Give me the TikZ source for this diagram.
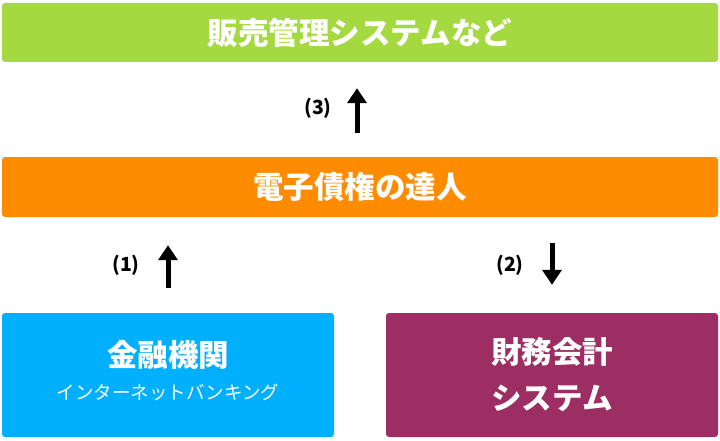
\documentclass[tikz,border=0pt]{standalone}
\usepackage{fontspec}
\setmainfont{Noto Sans CJK JP}
\usepackage{xcolor}
\usetikzlibrary{arrows.meta}

\definecolor{salesgreen}{HTML}{A5D940}
\definecolor{tatsuorange}{HTML}{FF8C00}
\definecolor{bankblue}{HTML}{00B0FF}
\definecolor{acctpurple}{HTML}{9C2E64}

\tikzset{
  panel/.style={fill=#1, rounded corners=3pt, text=white, font=\bfseries\fontsize{30.5}{46}\selectfont, align=center, inner sep=0pt},
  flow/.style={line width=5pt, -{Triangle[width=19pt,length=15pt]}},
  numlabel/.style={font=\bfseries\fontsize{19.5}{22}\selectfont}
}

\begin{document}
\begin{tikzpicture}[x=1pt,y=1pt]
\useasboundingbox (0,0) rectangle (720,440);
\node[panel=salesgreen, minimum width=716pt, minimum height=59pt] (sales) at (360,407.5) {販売管理システムなど};
\node[panel=tatsuorange, minimum width=716pt, minimum height=60pt] (tatsujin) at (360,253) {電子債権の達人};
\node[panel=bankblue, minimum width=332pt, minimum height=124pt] (bank) at (168,65) {};
\node[panel=acctpurple, minimum width=332pt, minimum height=124pt] (acct) at (552,65) {};
\node[text=white, font=\bfseries\fontsize{30.5}{34}\selectfont] (banktitle) at (168,85) {金融機関};
\node[text=white, font=\fontsize{18.5}{20}\selectfont] (banksub) at (168,48) {インターネットバンキング};
\node[text=white, font=\bfseries\fontsize{30.5}{34}\selectfont] (accttitle) at (552,88) {財務会計};
\node[text=white, font=\bfseries\fontsize{30.5}{34}\selectfont] (acctsub) at (552,42) {システム};
% arrows
\coordinate (upx) at (357,0);
\draw[flow, shorten <=24pt, shorten >=26pt] (tatsujin.north -| upx) -- (sales.south -| upx);
\draw[flow, shorten <=25pt, shorten >=28pt] (bank.north) -- (tatsujin.south -| bank.north);
\draw[flow, shorten <=26pt, shorten >=28pt] (tatsujin.south -| acct.north) -- (acct.north);
\node[numlabel] (lab3) at (318,332) {(3)};
\node[numlabel] (lab1) at (126,175) {(1)};
\node[numlabel] (lab2) at (510,175) {(2)};
\end{tikzpicture}
\end{document}
